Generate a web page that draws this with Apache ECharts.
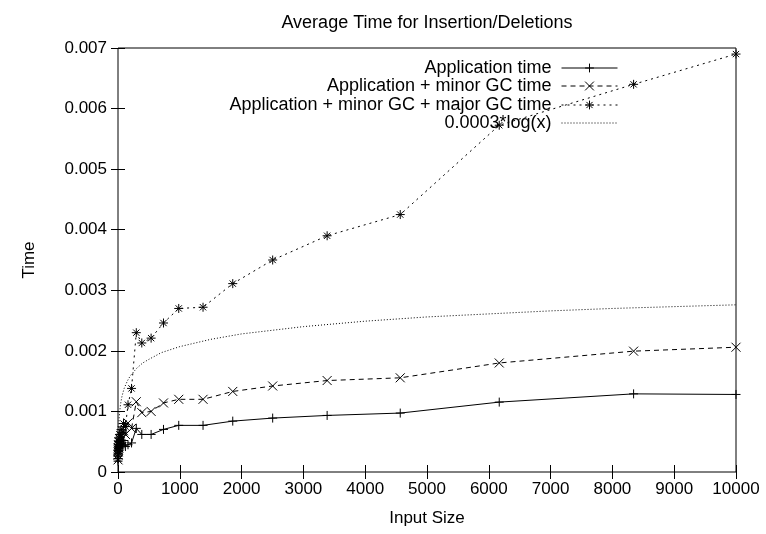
<!DOCTYPE html>
<html>
<head>
<meta charset="utf-8">
<script src="https://cdn.jsdelivr.net/npm/echarts@6/dist/echarts.min.js"></script>
<style>
    html, body { margin: 0; padding: 0; background: #fff; }
    #chart { width: 766px; height: 534px; }
</style>
</head>
<body>
<div id="chart"></div>
<script>
// input sizes
const inputSizes = [1, 2, 3, 4, 6, 8, 11, 15, 20, 27, 36, 49, 66, 89, 120, 162, 219, 296, 385, 536,
    736, 983, 1376, 1857, 2503, 3384, 4567, 6169, 8343, 10000];

const appTime = [0.00018, 0.00022, 0.00028, 0.00035, 0.0003, 0.00038, 0.00033, 0.00042, 0.00036, 0.00045,
    0.0004, 0.00048, 0.00044, 0.00052, 0.00042, 0.00045, 0.00048, 0.00072, 0.00062, 0.00062,
    0.000703, 0.00077, 0.00077, 0.00084, 0.00089, 0.000934, 0.000973, 0.001154, 0.00129, 0.00128];

const appMinorTime = [0.0002, 0.00028, 0.00033, 0.0004, 0.00036, 0.00045, 0.0004, 0.0005, 0.00045, 0.00055,
    0.0005, 0.0006, 0.00055, 0.00068, 0.00062, 0.00081, 0.00072, 0.00116, 0.00098, 0.001,
    0.00114, 0.0012, 0.0012, 0.00133, 0.00142, 0.00151, 0.001555, 0.0018, 0.001995, 0.00206];

const appMinorMajorTime = [0.00022, 0.0003, 0.00036, 0.00045, 0.0004, 0.0005, 0.00046, 0.00056, 0.0005, 0.00062,
    0.00058, 0.0007, 0.00065, 0.0008, 0.00075, 0.00111, 0.00138, 0.0023, 0.00213, 0.00221,
    0.00246, 0.0027, 0.00272, 0.00311, 0.0035, 0.0039, 0.00425, 0.005725, 0.0064, 0.0069];

// the reference curve
const logX = [10, 15, 20, 30, 40, 60, 80, 100, 150, 200, 300, 400, 500, 700, 1000, 1500, 2000,
    3000, 4000, 5000, 6000, 7000, 8000, 9000, 10000];
const logY = [0.00069, 0.00081, 0.0009, 0.00102, 0.00111, 0.00123, 0.00131, 0.00138, 0.0015, 0.00159,
    0.00171, 0.0018, 0.00186, 0.00197, 0.00207, 0.00219, 0.00228, 0.0024, 0.00249, 0.00256,
    0.00261, 0.00266, 0.0027, 0.00273, 0.00276];

const seriesNames = [
    'Application time',
    'Application + minor GC time',
    'Application + minor GC + major GC time',
    '0.0003*log(x)'
];

const FONT = '"Liberation Sans", Arial, sans-serif';
const FS = 18;
const TICK_FS = 17;
const plusSym = 'path://M0,5L10,5M5,0L5,10';
const crossSym = 'path://M0,0L10,10M10,0L0,10';
const starSym = 'path://M0,5L10,5M5,0L5,10M1.5,1.5L8.5,8.5M8.5,1.5L1.5,8.5';

function pairs(xs, ys) {
    return xs.map((x, i) => [x, ys[i]]);
}

function markSeries(name, values, symbol, dash) {
    return {
        name: name,
        type: 'line',
        data: pairs(inputSizes, values),
        symbol: symbol,
        symbolSize: 9,
        showAllSymbol: true,
        itemStyle: { color: '#000', borderColor: '#000', borderWidth: 1 },
        lineStyle: { color: '#000', width: 1, type: dash },
        emphasis: { disabled: true },
        animation: false
    };
}

// one legend per row so the samples line up on the right, like gnuplot's key
const legendTops = [54, 72, 91, 109];
const legends = seriesNames.map((name, i) => ({
    data: [name],
    right: 143,
    top: legendTops[i],
    align: 'right',
    itemWidth: 56,
    itemHeight: 11,
    itemStyle: { borderWidth: 1, opacity: i === 3 ? 0 : 1 },
    lineStyle: { width: 1 },
    textStyle: { fontFamily: FONT, fontSize: FS, color: '#000', padding: [0, 5, 0, 0] },
    selectedMode: false
}));

const tickStyle = { inside: true, length: 7, lineStyle: { color: '#000' } };

const chart = echarts.init(document.getElementById('chart'));
chart.setOption({
    backgroundColor: '#fff',
    animation: false,
    title: {
        text: 'Average Time for Insertion/Deletions',
        left: 422,
        textAlign: 'center',
        top: 9,
        textStyle: { fontFamily: FONT, fontSize: FS, fontWeight: 'normal', color: '#000' }
    },
    legend: legends,
    grid: {
        left: 118, right: 30, top: 48, bottom: 62,
        show: true, borderColor: '#000', borderWidth: 1
    },
    xAxis: [{
        type: 'value', min: 0, max: 10000, interval: 1000,
        name: 'Input Size', nameLocation: 'middle', nameGap: 38,
        nameTextStyle: { fontFamily: FONT, fontSize: TICK_FS, color: '#000' },
        axisLine: { show: false },
        axisTick: tickStyle,
        axisLabel: {
            fontFamily: FONT, fontSize: TICK_FS, color: '#000', margin: 9,
            formatter: (v) => String(v)
        },
        splitLine: { show: false }
    }, {
        type: 'value', min: 0, max: 10000, interval: 1000, position: 'top',
        axisLine: { show: false },
        axisTick: tickStyle,
        axisLabel: { show: false },
        splitLine: { show: false }
    }],
    yAxis: [{
        type: 'value', min: 0, max: 0.007, interval: 0.001,
        name: 'Time', nameLocation: 'middle', nameGap: 80,
        nameTextStyle: { fontFamily: FONT, fontSize: TICK_FS, color: '#000' },
        axisLine: { show: false },
        axisTick: tickStyle,
        axisLabel: {
            fontFamily: FONT, fontSize: TICK_FS, color: '#000', margin: 11,
            formatter: (v) => v === 0 ? '0' : v.toFixed(3)
        },
        splitLine: { show: false }
    }, {
        type: 'value', min: 0, max: 0.007, interval: 0.001, position: 'right',
        axisLine: { show: false },
        axisTick: tickStyle,
        axisLabel: { show: false },
        splitLine: { show: false }
    }],
    series: [
        markSeries(seriesNames[0], appTime, plusSym, 'solid'),
        markSeries(seriesNames[1], appMinorTime, crossSym, [5, 4]),
        markSeries(seriesNames[2], appMinorMajorTime, starSym, [2, 4]),
        {
            name: seriesNames[3],
            type: 'line',
            data: pairs(logX, logY),
            showSymbol: false,
            symbol: 'none',
            itemStyle: { color: '#000' },
            lineStyle: { color: '#000', width: 1, type: [1, 2] },
            emphasis: { disabled: true },
            animation: false
        }
    ]
});
</script>
</body>
</html>
